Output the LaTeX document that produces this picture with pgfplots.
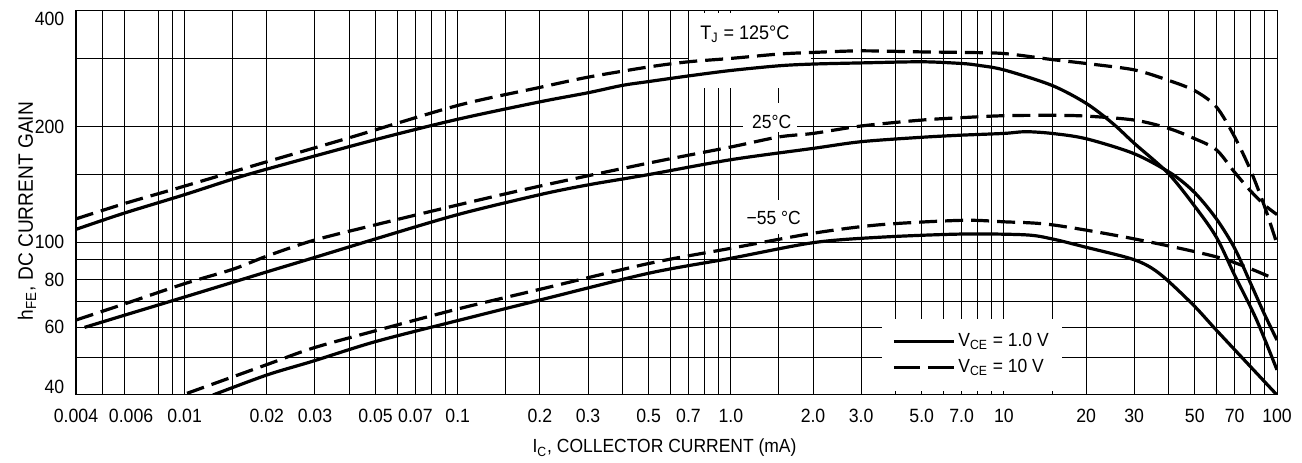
\documentclass[border=0pt]{standalone}
\usepackage{fontspec}
\setmainfont{Liberation Sans}[FakeStretch=0.92]
\usepackage{pgfplots}
\pgfplotsset{compat=1.18}

% tick labels at the ends are pulled inside the box
\newcommand{\tl}[2]{\raisebox{0pt}[0pt][0pt]{\raisebox{#1}{#2}}}

\pgfplotsset{
  vone/.style={black, line width=1.6pt, smooth, tension=0.5},
  vten/.style={black, line width=1.6pt, smooth, tension=0.5, dash pattern=on 9pt off 4pt},
}

\begin{document}
\begin{tikzpicture}
\begin{axis}[
  name=ax,
  scale only axis,
  width=600.5pt, height=192pt,
  xmode=log, ymode=log,
  xmin=0.004, xmax=100, ymin=40, ymax=400,
  xtick={0.004,0.006,0.01,0.02,0.03,0.05,0.07,0.1,0.2,0.3,0.5,0.7,1,2,3,5,7,10,20,30,50,70,100},
  xticklabels={0.004,\hspace{7pt}0.006,0.01,0.02,0.03,0.05,0.07,0.1,0.2,0.3,0.5,0.7,1.0,2.0,3.0,5.0,7.0,10,20,30,50,70,100},
  minor xtick={0.005,0.008,0.009,0.015,0.04,0.06,0.08,0.09,0.15,0.4,0.6,0.8,0.9,1.5,4,6,8,9,15,40,60,80,90},
  ytick={40,60,80,100,200,400},
  yticklabels={\tl{0.75pt}{40},60,80,100,200,\tl{-7.25pt}{400}},
  minor ytick={50,70,90,150,300},
  grid=both,
  major grid style={black, line width=0.5pt},
  minor grid style={black, line width=0.5pt},
  major tick length=0pt, minor tick length=0pt,
  tick style={draw=none},
  axis line style={line width=0.5pt},
  tick label style={font=\fontsize{9.6}{11}\selectfont},
  xticklabel style={yshift=-3.3pt},
  yticklabel style={xshift=-2.3pt},
  xlabel={I\textsubscript{C}, COLLECTOR CURRENT (mA)},
  xlabel style={at={(axis description cs:0.49,0)}, anchor=base, yshift=-29pt,
    font=\fontsize{9.5}{11}\selectfont},
  ylabel={h\textsubscript{FE}, DC CURRENT GAIN},
  ylabel style={at={(axis description cs:-0.0358,0.479)}, anchor=base,
    font=\fontsize{10.4}{12}\selectfont},
  legend style={at={(axis description cs:0.746,0.105)}, anchor=center,
    draw=none, fill=white, font=\fontsize{9.5}{11}\selectfont,
    inner xsep=5pt, inner ysep=5pt,
    nodes={inner sep=1.5pt, minimum height=13pt}, row sep=0pt},
  legend cell align=left,
  legend image code/.code={\draw[#1] (0pt,0pt) -- (30pt,0pt);},
]

% white patches behind the curve labels
\fill[white] (axis cs:0.70,251.5) rectangle (axis cs:1.97,396);
\fill[white] (axis cs:1.107,193.6) rectangle (axis cs:1.746,230.4);
\fill[white] (axis cs:1.107,105) rectangle (axis cs:1.837,128.8);
\node[font=\fontsize{9.8}{11}\selectfont] at (axis cs:1.126,348) {T\textsubscript{J} = 125°C};
\node[font=\fontsize{9.5}{11}\selectfont] at (axis cs:1.411,206) {25°C};
\node[font=\fontsize{9.5}{11}\selectfont] at (axis cs:1.435,115.3) {−55 °C};

\addlegendimage{black, line width=1.6pt}
\addlegendentry{V\textsubscript{CE} = 1.0 V}
\addlegendimage{black, line width=1.6pt, dash pattern=on 13pt off 4pt}
\addlegendentry{V\textsubscript{CE} = 10 V}

% TJ = 125 C
\addplot[vone, forget plot] coordinates {
(0.004,108) (0.006,119) (0.01,133) (0.015,146) (0.02,155) (0.05,185)
(0.1,209) (0.2,232) (0.3,245) (0.4,256) (0.5,262) (0.7,271) (1,280) (1.5,288)
(2,291) (3,293) (5,295) (7,292) (8,289) (10,281) (15,256) (20,230) (25,204)
(30,181) (40,151) (50,124) (60,103) (70,82) (84,63) (100,46.5)
};
\addplot[vten, forget plot] coordinates {
(0.004,115) (0.006,126) (0.01,140) (0.02,162) (0.04,187) (0.1,227) (0.2,253)
(0.3,269) (0.5,286) (0.7,295) (1,301) (1.5,309) (2,312) (3,315) (5,313) (7,312)
(10,310) (15,299) (20,292) (30,281) (40,264) (50,248) (60,225) (70,188)
(80,154) (90,124) (100,99)
};

% TJ = 25 C
\addplot[vone, forget plot] coordinates {
(0.0043,60) (0.006,64.5) (0.01,72) (0.02,83.7) (0.03,91.3) (0.05,102) (0.1,118)
(0.2,133) (0.3,141) (0.5,150) (1,164) (2,175.5) (3,182.7) (5,187.6) (7,190)
(10,192) (12,194) (15,192) (20,186) (30,170) (41,151) (50,134.5) (60,115)
(70,96.4) (80,78.2) (90,64.9) (100,55.6)
};
\addplot[vten, forget plot] coordinates {
(0.004,62.7) (0.006,69) (0.01,78) (0.015,85) (0.02,92) (0.0295,101) (0.05,111)
(0.1,125) (0.2,140) (0.5,160.7) (1,177) (1.5,188) (2,192) (3,200.7) (5,208)
(7,211) (10,213.5) (15,214) (20,213) (30,208) (40,198) (50,186) (60,174)
(70,152) (80,136) (90,125) (100,118)
};

% TJ = -55 C
\addplot[vone, forget plot] coordinates {
(0.0127,40) (0.02,45.1) (0.0295,49) (0.05,55.1) (0.1,62.5) (0.2,70.7) (0.5,83)
(1,90.8) (2,99.7) (3.5,103) (7,105) (12,104.5) (15,102) (20,97) (30,90) (37,83)
(49,69) (60,59) (80,47.4) (100,40)
};
\addplot[vten, forget plot] coordinates {
(0.0102,40.4) (0.02,48) (0.0295,53) (0.05,58.8) (0.1,67) (0.2,75.4) (0.5,88)
(1,96.4) (2,105.5) (3.5,111) (7,114) (10,113) (15,111) (30,102) (62,91) (95,81)
};

% heavier left and bottom border
\draw[line width=1.1pt] (rel axis cs:0,1) -- (rel axis cs:0,0) -- (rel axis cs:1,0);
\end{axis}
\pgfresetboundingbox
\path ([shift={(-38pt,-33.5pt)}]ax.south west) rectangle ([shift={(12.5pt,5.5pt)}]ax.north east);
\end{tikzpicture}
\end{document}
